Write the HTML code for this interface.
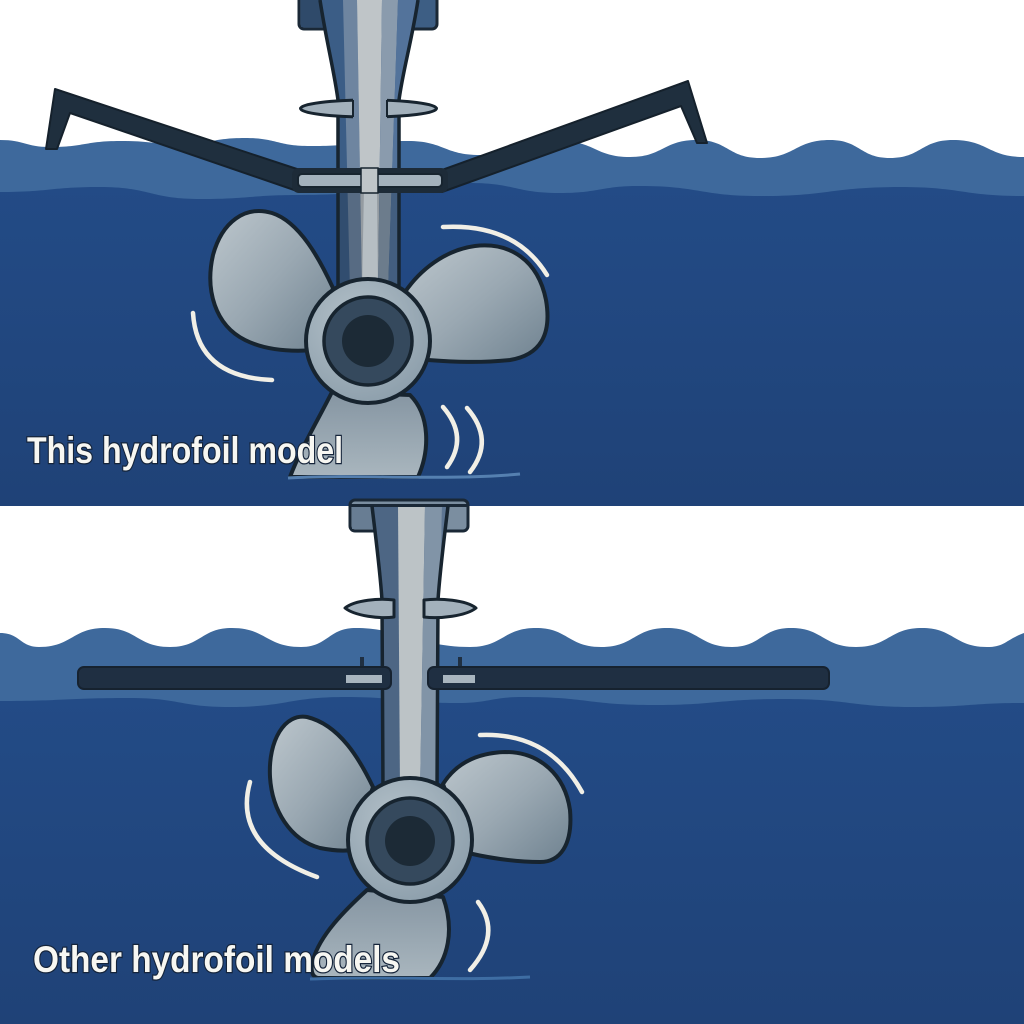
<!DOCTYPE html>
<html><head><meta charset="utf-8"><style>
html,body{margin:0;padding:0;background:#fff;}
svg{display:block;}
</style></head><body>
<svg width="1024" height="1024" viewBox="0 0 1024 1024" xmlns="http://www.w3.org/2000/svg">
<defs>
  <linearGradient id="dw" x1="0" y1="0" x2="0" y2="1">
    <stop offset="0" stop-color="#234b86"/><stop offset="1" stop-color="#1f4277"/>
  </linearGradient>
  <linearGradient id="bl" x1="0" y1="0" x2="1" y2="1">
    <stop offset="0" stop-color="#bdc7cd"/><stop offset="0.5" stop-color="#9aa8b2"/><stop offset="1" stop-color="#6f8290"/>
  </linearGradient>
  <linearGradient id="bl2" x1="0" y1="0" x2="0" y2="1">
    <stop offset="0" stop-color="#8595a2"/><stop offset="1" stop-color="#a9b6be"/>
  </linearGradient>
  <radialGradient id="hr" cx="0.4" cy="0.35" r="0.7">
    <stop offset="0" stop-color="#b4c1c9"/><stop offset="1" stop-color="#8c9eab"/>
  </radialGradient>
  <clipPath id="mt"><path d="M320,0 C326,40 334,70 338,100 L338,292 L399,292 L399,100 C403,70 412,40 418,0 Z"/></clipPath>
  <clipPath id="mb"><path d="M372,506 C376,540 380,570 382,600 L383,792 L437,792 L438,600 C440,570 444,540 448,506 Z"/></clipPath>
  <clipPath id="finc"><rect x="353" y="96" width="34" height="24"/></clipPath>
  <g id="ts">
    <rect x="300" y="0" width="140" height="300" fill="#3b5d86"/>
    <polygon points="343,0 357,0 362,292 350,292" fill="#6e85a0"/>
    <polygon points="357,0 382,0 378,292 362,292" fill="#bfc5c8"/>
    <polygon points="382,0 398,0 388,292 378,292" fill="#8a9bad"/>
    <polygon points="398,0 420,0 420,292 388,292" fill="#53739b"/>
  </g>
</defs>

<!-- ================= TOP PANEL ================= -->
<rect x="0" y="0" width="1024" height="506" fill="#fff"/>
<path d="M0,140 C25,140 25,147 50,147 C85,147 85,141 120,141 C150,141 150,144 180,144 C212,144 212,138 245,138 C277,138 277,146 310,146 C359,146 359,141 408,141 C444,141 444,155 480,155 C520,155 520,141 560,141 C595,141 595,157 630,157 C663,157 663,140 697,140 C728,140 728,158 760,158 C795,158 795,140 830,140 C860,140 860,158 890,158 C921,158 921,140 953,140 C988,140 988,157 1024,157 L1024,506 L0,506 Z" fill="#3e699c"/>
<path d="M0,192 C50,192 50,187 100,187 C150,187 150,199 200,199 C250,199 250,195 300,195 C385,195 385,183 470,183 C515,183 515,193 560,193 C600,193 600,186 640,186 C700,186 700,196 760,196 C830,196 830,187 900,187 C962,187 962,196 1024,196 L1024,506 L0,506 Z" fill="url(#dw)"/>

<!-- struts -->
<path d="M46,149 L55,89 L300,170 L300,192 L70,113 L57,149 Z" fill="#1f2f3e" stroke="#15212c" stroke-width="2" stroke-linejoin="round"/>
<path d="M707,143 L688,81 L442,170 L442,192 L681,106 L697,143 Z" fill="#1f2f3e" stroke="#15212c" stroke-width="2" stroke-linejoin="round"/>

<!-- box -->
<rect x="299" y="-6" width="138" height="35" rx="5" fill="#3d5e84" stroke="#1a2836" stroke-width="3"/>
<rect x="301" y="-4" width="40" height="31" fill="#2f4a6a"/>

<!-- mast -->
<g clip-path="url(#mt)"><use href="#ts"/>
  <rect x="330" y="188" width="80" height="110" fill="#14202b" opacity="0.25"/>
  <polygon points="364,188 377,188 378,292 362,292" fill="#b6bec3"/>
</g>
<path d="M320,0 C326,40 334,70 338,100 L338,292 L399,292 L399,100 C403,70 412,40 418,0" fill="none" stroke="#17242f" stroke-width="3.5"/>

<!-- fins -->
<ellipse cx="368.5" cy="108.5" rx="68" ry="8.5" fill="#a3b1bc" stroke="#17242f" stroke-width="3"/>
<use href="#ts" clip-path="url(#finc)"/>
<line x1="353" y1="100" x2="353" y2="117" stroke="#17242f" stroke-width="2"/>
<line x1="387" y1="100" x2="387" y2="117" stroke="#17242f" stroke-width="2"/>

<!-- crossbar -->
<rect x="292" y="168" width="156" height="25" rx="7" fill="#1d2b38"/>
<rect x="298" y="174" width="144" height="13" rx="4" fill="#a3b1bc" stroke="#17242f" stroke-width="2"/>
<rect x="361" y="168" width="17" height="25" fill="#bfc5c8" stroke="#17242f" stroke-width="1.5"/>

<!-- blades top -->
<g stroke="#17242f" stroke-width="4" stroke-linejoin="round">
  <path d="M333,288 C320,260 300,222 272,213 C245,205 222,222 213,255 C205,290 215,325 245,340 C265,350 290,352 315,350 Z" fill="url(#bl)"/>
  <path d="M405,292 C420,270 445,250 475,246 C510,242 538,260 546,300 C552,335 540,355 510,360 C480,363 455,362 428,360 Z" fill="url(#bl)"/>
  <path d="M332,392 C318,420 300,450 290,477 L418,477 C430,450 430,415 410,395 Z" fill="url(#bl2)"/>
</g>
<path d="M288,478 C350,474 450,481 520,474" fill="none" stroke="#5580b0" stroke-width="3"/>
<!-- hub top -->
<circle cx="368" cy="341" r="62" fill="url(#hr)" stroke="#17242f" stroke-width="4"/>
<circle cx="368" cy="341" r="44" fill="#35495d" stroke="#17242f" stroke-width="3.5"/>
<circle cx="368" cy="341" r="26" fill="#1c2a36"/>

<!-- motion arcs top -->
<g fill="none" stroke="#f1efe6" stroke-width="4.5" stroke-linecap="round">
  <path d="M443,227 Q515,223 547,275"/>
  <path d="M193,313 Q197,377 272,380"/>
  <path d="M443,407 Q469,437 447,467"/>
  <path d="M467,408 Q495,440 470,472"/>
</g>

<text x="27" y="463" textLength="316" lengthAdjust="spacingAndGlyphs" font-family="Liberation Sans, DejaVu Sans, sans-serif" font-weight="bold" font-size="37" fill="#f7f7f2" stroke="#15243a" stroke-width="2.5" paint-order="stroke">This hydrofoil model</text>

<!-- ================= BOTTOM PANEL ================= -->
<rect x="0" y="506" width="1024" height="518" fill="#fff"/>
<path d="M0,633 C20,633 20,647 39,647 C72,647 72,628 105,628 C137,628 137,647 170,647 C201,647 201,628 232,628 C266,628 266,647 301,647 C328,647 328,628 356,628 C400,628 420,647 470,647 C503,647 503,628 536,628 C568,628 568,647 601,647 C634,647 634,628 667,628 C699,628 699,647 732,647 C761,647 761,628 791,628 C823,628 823,647 856,647 C889,647 889,628 922,628 C954,628 954,647 987,647 C1005,647 1005,640 1024,633 L1024,1024 L0,1024 Z" fill="#3e699c"/>
<path d="M0,701 C65,701 65,698 130,698 C180,698 180,707 229,707 C288,707 288,697 346,697 C400,697 400,703 457,703 C490,703 490,697 523,697 C588,697 588,705 653,705 C718,705 718,699 784,699 C850,699 850,707 915,707 C970,707 970,703 1024,703 L1024,1024 L0,1024 Z" fill="url(#dw)"/>

<!-- box bottom -->
<rect x="350" y="500" width="118" height="31" rx="5" fill="#7b8ea0" stroke="#1a2836" stroke-width="3"/>
<rect x="352" y="506" width="22" height="23" fill="#687d93"/>

<!-- mast bottom -->
<g clip-path="url(#mb)">
  <rect x="360" y="506" width="100" height="300" fill="#4d6684"/>
  <polygon points="398,506 425,506 420,792 400,792" fill="#bcc3c6"/>
  <polygon points="425,506 442,506 437,792 420,792" fill="#8194a7"/>
  <polygon points="442,506 450,506 450,792 437,792" fill="#5d7592"/>
</g>
<rect x="350" y="504" width="118" height="3" fill="#1a2836"/>
<path d="M372,506 C376,540 380,570 382,600 L383,792 M448,506 C444,540 440,570 438,600 L437,792" fill="none" stroke="#17242f" stroke-width="3.5"/>

<!-- fins bottom -->
<path d="M345,608 C355,600 380,598 394,600 L394,617 C380,619 355,616 345,608 Z" fill="#a3b1bc" stroke="#17242f" stroke-width="3" stroke-linejoin="round"/>
<path d="M476,608 C466,600 440,598 424,600 L424,617 C440,619 466,616 476,608 Z" fill="#a3b1bc" stroke="#17242f" stroke-width="3" stroke-linejoin="round"/>

<!-- horizontal bar -->
<rect x="360" y="657" width="4" height="11" fill="#1f2f42"/>
<rect x="458" y="657" width="4" height="11" fill="#1f2f42"/>
<rect x="78" y="667" width="313" height="22" rx="6" fill="#1f2f42" stroke="#16222f" stroke-width="2"/>
<rect x="428" y="667" width="401" height="22" rx="6" fill="#1f2f42" stroke="#16222f" stroke-width="2"/>
<rect x="346" y="675" width="36" height="8" fill="#a8b5bf"/>
<rect x="443" y="675" width="32" height="8" fill="#a8b5bf"/>

<!-- blades bottom -->
<g stroke="#17242f" stroke-width="4" stroke-linejoin="round">
  <path d="M373,787 C360,760 340,725 307,717 C285,713 268,740 270,777 C272,810 290,840 320,848 C335,851 345,851 352,850 Z" fill="url(#bl)"/>
  <path d="M443,784 C455,765 475,753 505,752 C540,752 565,775 570,810 C573,845 560,862 540,862 C515,862 490,858 468,853 Z" fill="url(#bl)"/>
  <path d="M367,890 C345,910 320,935 313,960 C310,970 312,977 318,978 L430,978 C448,960 455,930 443,897 Z" fill="url(#bl2)"/>
</g>
<path d="M310,979 C380,976 460,981 530,977" fill="none" stroke="#3e6da3" stroke-width="3"/>
<!-- hub bottom -->
<circle cx="410" cy="840" r="62" fill="url(#hr)" stroke="#17242f" stroke-width="4"/>
<circle cx="410" cy="841" r="43" fill="#35495d" stroke="#17242f" stroke-width="3.5"/>
<circle cx="410" cy="841" r="25" fill="#1c2a36"/>

<!-- motion arcs bottom -->
<g fill="none" stroke="#f1efe6" stroke-width="4.5" stroke-linecap="round">
  <path d="M250,782 Q232,846 317,877"/>
  <path d="M480,735 Q549,732 582,792"/>
  <path d="M478,902 Q502,934 470,970"/>
</g>

<text x="33" y="972" textLength="367" lengthAdjust="spacingAndGlyphs" font-family="Liberation Sans, DejaVu Sans, sans-serif" font-weight="bold" font-size="37" fill="#f7f7f2" stroke="#15243a" stroke-width="2.5" paint-order="stroke">Other hydrofoil models</text>
</svg>
</body></html>
